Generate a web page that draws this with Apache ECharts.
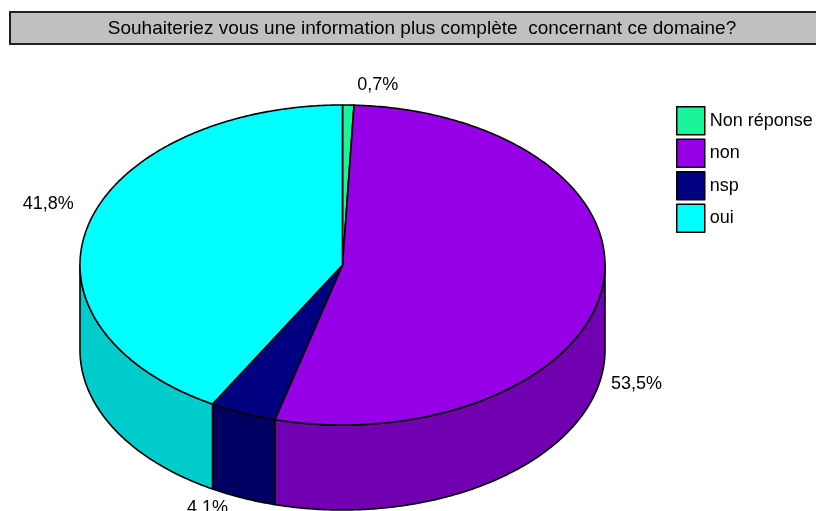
<!DOCTYPE html>
<html>
<head>
<meta charset="utf-8">
<script src="https://cdn.jsdelivr.net/npm/echarts@6/dist/echarts.min.js"></script>
<style>
html,body{margin:0;padding:0;background:#fff;}
#chart{width:816px;height:511px;}
</style>
</head>
<body>
<div id="chart"></div>
<script>
// ---- data ----
const categories = ['Non réponse', 'non', 'nsp', 'oui'];
const values = [0.7, 53.5, 4.1, 41.8];
const labelTexts = ['0,7%', '53,5%', '4.1%', '41,8%'];
const titleText = 'Souhaiteriez vous une information plus complète  concernant ce domaine?';

// ---- styles ----
const topColors = ['#1AF59B', '#9600E6', '#000080', '#00FFFF'];
const sideColors = ['#14C07A', '#7000B0', '#000062', '#00CCCC'];
const FONT = 'Liberation Sans, Arial, sans-serif';

// ---- pie geometry (3D ellipse) ----
const CX = 342.5, CY = 265, RX = 262.5, RY = 160, DEPTH = 85;

const total = values.reduce((a, b) => a + b, 0);
const starts = [];
let acc = 0;
values.forEach(v => { starts.push(acc / total * Math.PI * 2); acc += v; });

function pt(theta, dy) {
  return [CX + RX * Math.sin(theta), CY - RY * Math.cos(theta) + (dy || 0)];
}
function arc(a1, a2, dy) {
  const n = Math.max(2, Math.ceil(Math.abs(a2 - a1) / 0.01));
  const out = [];
  for (let k = 0; k <= n; k++) out.push(pt(a1 + (a2 - a1) * k / n, dy));
  return out;
}
function range(params, api) {
  const i = params.dataIndex;
  const a1 = starts[i];
  const a2 = a1 + api.value(0) / total * Math.PI * 2;
  return [a1, a2, i];
}

function renderSide(params, api) {
  const [a1, a2, i] = range(params, api);
  const lo = Math.max(a1, Math.PI / 2), hi = Math.min(a2, Math.PI * 1.5);
  if (lo >= hi) return { type: 'group', children: [] };
  const pts = arc(lo, hi, 0).concat(arc(hi, lo, DEPTH));
  return {
    type: 'polygon',
    shape: { points: pts },
    style: { fill: sideColors[i], stroke: '#000', lineWidth: 1.6, lineJoin: 'round' }
  };
}

function renderTop(params, api) {
  const [a1, a2, i] = range(params, api);
  const pts = [[CX, CY]].concat(arc(a1, a2, 0));
  const mid = (a1 + a2) / 2;
  const s = Math.sin(mid), c = Math.cos(mid);
  const anchor = pt(mid, c < 0 ? DEPTH : 0);
  return {
    type: 'group',
    children: [
      {
        type: 'polygon',
        shape: { points: pts },
        style: { fill: topColors[i], stroke: '#000', lineWidth: 1.6, lineJoin: 'round' }
      },
      {
        type: 'text',
        x: anchor[0] + (s >= 0 ? 9 : -15),
        y: anchor[1] + (c > 0 ? -11 : 1),
        style: {
          text: labelTexts[i],
          font: '18px ' + FONT,
          fill: '#000',
          align: s >= 0 ? 'left' : 'right',
          verticalAlign: c > 0 ? 'bottom' : 'top'
        }
      }
    ]
  };
}

const chart = echarts.init(document.getElementById('chart'), null, { renderer: 'canvas' });
const seriesData = values.map((v, i) => ({ name: categories[i], value: [v] }));

chart.setOption({
  animation: false,
  backgroundColor: '#fff',
  graphic: [
    {
      type: 'rect',
      shape: { x: 10, y: 12, width: 830, height: 32 },
      style: { fill: '#C0C0C0', stroke: '#222', lineWidth: 2 }
    },
    {
      type: 'text',
      x: 422, y: 29,
      style: {
        text: titleText, font: '19px ' + FONT, fill: '#000',
        align: 'center', verticalAlign: 'middle'
      }
    }
  ],
  legend: {
    orient: 'vertical',
    left: 676, top: 106, padding: 0,
    itemWidth: 28, itemHeight: 28, itemGap: 3,
    icon: 'rect',
    itemStyle: { borderColor: '#000', borderWidth: 1.5 },
    textStyle: { fontSize: 18, fontFamily: FONT, color: '#000' },
    selectedMode: false,
    data: categories
  },
  series: [
    {
      type: 'pie', name: 'legend', radius: [0, 0], center: [-100, -100],
      silent: true, label: { show: false }, labelLine: { show: false },
      data: values.map((v, i) => ({ name: categories[i], value: v, itemStyle: { color: topColors[i] } }))
    },
    {
      type: 'custom', name: 'sides', coordinateSystem: 'none', z: 1,
      renderItem: renderSide, data: seriesData, silent: true
    },
    {
      type: 'custom', name: 'tops', coordinateSystem: 'none', z: 2,
      renderItem: renderTop, data: seriesData, silent: true
    }
  ]
});
</script>
</body>
</html>
